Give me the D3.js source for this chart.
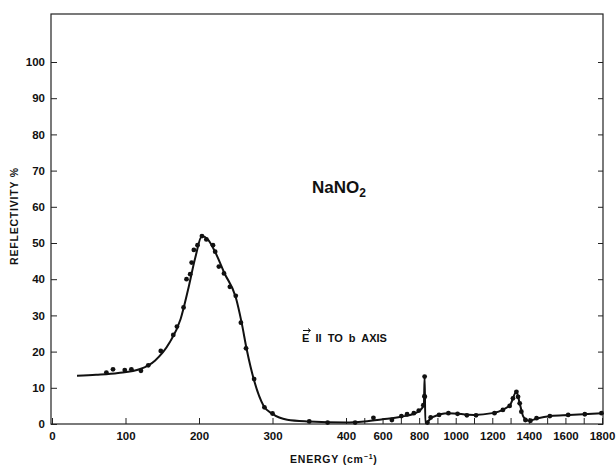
<!DOCTYPE html>
<html lang="en">
  <head>
    <meta charset="UTF-8" />
    <title>NaNO2 reflectivity</title>
    <script src="https://d3js.org/d3.v7.min.js"></script>
    <style>
      body {
        margin: 0;
        background-color: #fff;
      }
      svg text {
        font-family: "Liberation Sans", Arial, sans-serif;
        font-weight: bold;
        fill: #111;
      }
      .axis line {
        stroke: #222;
        stroke-width: 1;
      }
      .axis text {
        font-size: 11.5px;
      }
    </style>
  </head>
  <body>
    <svg width="616" height="467"></svg>

    <script>
      // measured points (energy in cm-1, reflectivity in %)
      const energy = [
        74, 83, 99, 108, 121, 131, 148, 165, 170, 179, 183, 188, 190, 193, 198,
        204, 210, 219, 222, 227, 234, 242, 250, 257, 264, 275, 289, 300, 350,
        375, 450, 550, 651, 703, 734, 771, 798, 823, 829, 830, 831, 845, 863,
        909, 960, 1010, 1061, 1111, 1212, 1258, 1295, 1313, 1332, 1341, 1350,
        1359, 1381, 1409, 1442, 1515, 1615, 1706, 1797,
      ];
      const reflectivity = [
        14.2, 15.1, 14.9, 15.1, 14.7, 16.2, 20.2, 24.6, 26.9, 32.2, 40, 41.4,
        44.6, 48.1, 49.4, 51.9, 51, 49.4, 47.6, 43.5, 41.6, 37.9, 35.4, 28,
        20.9, 12.4, 4.6, 2.9, 0.7, 0.4, 0.4, 1.7, 1.1, 2.2, 2.7, 3.0, 3.7, 5.2,
        7.7, 13.1, 7.5, 0.4, 1.8, 2.5, 3.0, 2.8, 2.4, 2.4, 3.0, 3.9, 5.0, 7.1,
        8.9, 7.5, 5.7, 3.4, 1.1, 0.9, 1.6, 2.2, 2.5, 2.7, 3.0,
      ];

      // smooth drawn curve through the points
      const fitEnergy = [
        34, 60, 90, 120, 140, 160, 175, 185, 195, 204, 212, 222, 235, 250, 258,
        265, 275, 288, 300, 320, 350, 400, 500, 600, 700, 780, 815, 826, 830,
        834, 845, 870, 960, 1100, 1200, 1260, 1300, 1332, 1350, 1370, 1400,
        1450, 1520, 1620, 1800,
      ];
      const fitRefl = [
        13.3, 13.6, 14.1, 15.2, 17.5, 22.5, 29, 37, 46, 51.9, 51, 47.5, 41.5,
        35, 28, 20.5, 12, 5, 2.8, 1.2, 0.7, 0.4, 0.7, 1.3, 2, 3, 4.3, 5.5, 13.2,
        0.3, 0.6, 1.8, 3.0, 2.5, 3.0, 4.0, 5.5, 8.9, 5.7, 2.0, 0.9, 1.6, 2.2,
        2.5, 3.0,
      ];

      const xBreaks = [0, 400, 1800];
      const xTicks = d3.range(0, 1801, 100);
      const xLabels = [0, 100, 200, 300, 400, 600, 800, 1000, 1200, 1400, 1600, 1800];
      const yTicks = d3.range(0, 101, 10);

      const svg = d3.select("svg");
      const mLeft = 51, mRight = 603, mTop = 14, mBottom = 424;

      // the energy axis is stretched below 400 cm-1
      const x = d3.scaleLinear().domain(xBreaks).range([mLeft + 1, 346, 602]);
      const y = d3.scaleLinear().domain([0, 100]).range([mBottom, 62]);

      const xAxis = svg
        .append("g")
        .attr("class", "axis")
        .attr("transform", `translate(0,${mBottom})`)
        .call(
          d3
            .axisBottom(x)
            .tickValues(xTicks)
            .tickSize(-6)
            .tickPadding(8)
            .tickFormat((d) => (xLabels.includes(d) ? d : ""))
        );
      xAxis.select(".domain").remove();

      const yAxis = svg
        .append("g")
        .attr("class", "axis")
        .attr("transform", `translate(${mLeft},0)`)
        .call(d3.axisLeft(y).tickValues(yTicks).tickSize(-6).tickPadding(6));
      yAxis.select(".domain").remove();

      // right side ticks
      const yRight = svg
        .append("g")
        .attr("class", "axis")
        .attr("transform", `translate(${mRight},0)`)
        .call(d3.axisRight(y).tickValues(yTicks).tickSize(-5).tickFormat(""));
      yRight.select(".domain").remove();

      svg
        .append("rect")
        .attr("x", mLeft)
        .attr("y", mTop)
        .attr("width", mRight - mLeft)
        .attr("height", mBottom - mTop)
        .attr("fill", "none")
        .attr("stroke", "#222")
        .attr("stroke-width", 1.2);

      const fit = fitEnergy.map((e, i) => [e, fitRefl[i]]);
      const line = d3
        .line()
        .x((d) => x(d[0]))
        .y((d) => y(d[1]))
        .curve(d3.curveMonotoneX);

      svg
        .append("path")
        .datum(fit)
        .attr("d", line)
        .attr("fill", "none")
        .attr("stroke", "#111")
        .attr("stroke-width", 2);

      svg
        .append("g")
        .selectAll("circle")
        .data(energy)
        .enter()
        .append("circle")
        .attr("cx", (d) => x(d))
        .attr("cy", (d, i) => y(reflectivity[i]))
        .attr("r", 2.4)
        .attr("fill", "#111");

      // labels
      const title = svg
        .append("text")
        .attr("x", 312)
        .attr("y", 193)
        .attr("font-size", 17);
      title.append("tspan").text("NaNO");
      title.append("tspan").attr("font-size", 12).attr("dy", 4).text("2");

      svg
        .append("text")
        .attr("x", 302)
        .attr("y", 342)
        .attr("font-size", 11)
        .attr("xml:space", "preserve")
        .text("E  II  TO  b  AXIS");
      // vector arrow over the E
      svg
        .append("path")
        .attr("d", "M303,330.5H310M308,328.5L310.5,330.5L308,332.5")
        .attr("fill", "none")
        .attr("stroke", "#111")
        .attr("stroke-width", 1);

      const xTitle = svg
        .append("text")
        .attr("x", 290)
        .attr("y", 463)
        .attr("font-size", 10.5)
        .attr("letter-spacing", 0.8);
      xTitle.append("tspan").text("ENERGY  (cm");
      xTitle.append("tspan").attr("font-size", 7).attr("dy", -4).text("−1");
      xTitle.append("tspan").attr("dy", 4).text(")");

      svg
        .append("text")
        .attr("transform", "translate(18,216) rotate(-90)")
        .attr("text-anchor", "middle")
        .attr("font-size", 10.5)
        .attr("letter-spacing", 0.8)
        .text("REFLECTIVITY %");
    </script>
  </body>
</html>
